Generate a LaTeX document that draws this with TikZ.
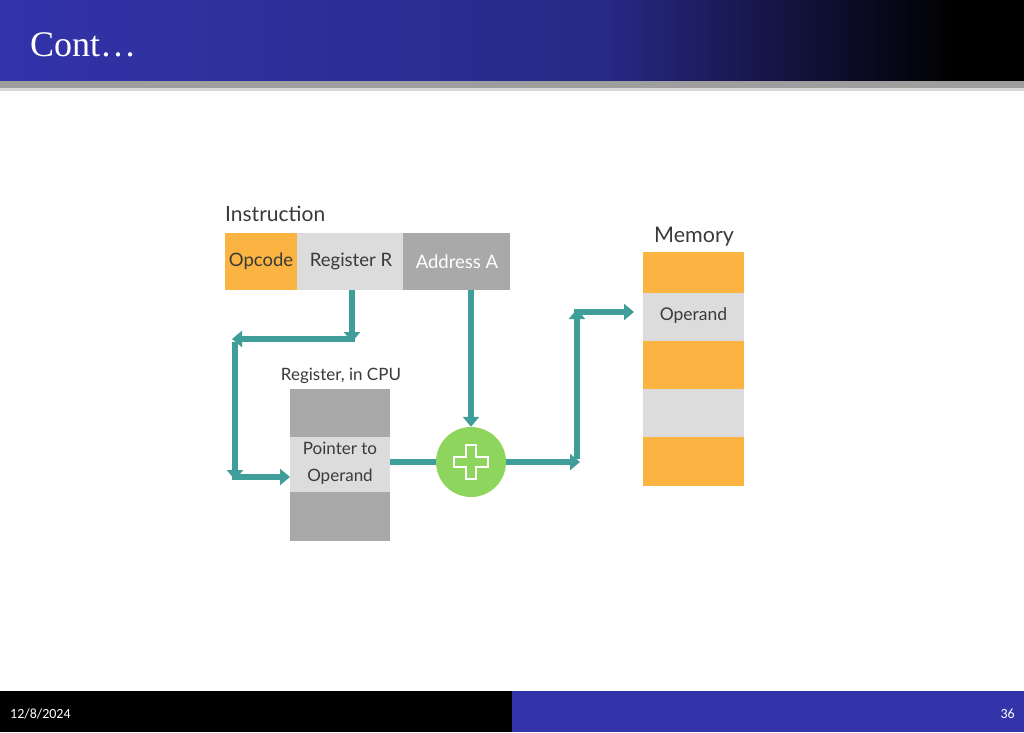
\documentclass[tikz,border=0pt]{standalone}
\usepackage{fontspec}
\setmainfont{Liberation Serif}
\newfontfamily\diagfont{Lato}
\newfontfamily\footfont{Carlito}
\definecolor{hdrblue}{HTML}{3333AA}
\definecolor{teal}{HTML}{409E9A}
\definecolor{orng}{HTML}{FBB441}
\definecolor{lgray}{HTML}{DCDCDC}
\definecolor{dgray}{HTML}{A9A9A9}
\definecolor{grn}{HTML}{8ED55E}
\definecolor{txt}{HTML}{3A3A3A}
\usetikzlibrary{arrows.meta}
\begin{document}
\begin{tikzpicture}[x=1pt,y=-1pt,
  lbl/.style={font=\diagfont\fontsize{21}{24}\selectfont,text=txt,inner sep=0pt},
  celltxt/.style={font=\diagfont\fontsize{18.5}{24}\selectfont,text=txt,align=center},
  conn/.style={teal,line width=5.5pt,-{Triangle[length=10pt,width=16pt]}},
  plain/.style={teal,line width=5.5pt}]
\useasboundingbox (0,0) rectangle (1024,732);
\fill[white] (0,0) rectangle (1024,732);
% header
\shade[left color=hdrblue,right color=hdrblue!80!black] (0,0) rectangle (600,81);
\shade[left color=hdrblue!80!black,right color=black] (600,0) rectangle (955,81);
\fill[black] (955,0) rectangle (1024,81);
\fill[black!38] (0,81) rectangle (1024,88);
\fill[black!15] (0,88) rectangle (1024,91);
\node[anchor=base west,text=white,font=\fontsize{36}{40}\selectfont,inner sep=0pt] (title) at (30,56) {Cont…};
% footer
\fill[black] (0,691) rectangle (512,732);
\fill[hdrblue] (512,691) rectangle (1024,732);
\node[anchor=base west,text=white,font=\footfont\fontsize{14}{16}\selectfont,inner sep=0pt] (date) at (10,718) {12/8/2024};
\node[anchor=base east,text=white,font=\footfont\fontsize{14}{16}\selectfont,inner sep=0pt] (page) at (1015,718) {36};
% instruction
\node[lbl,anchor=base west] (instr) at (225,221) {Instruction};
\fill[orng] (225,233) rectangle (297,290);
\fill[lgray] (297,233) rectangle (403,290);
\fill[dgray] (403,233) rectangle (510,290);
\node[celltxt] (opc) at (261,261.5) {Opcode};
\node[celltxt] (regr) at (351,261.5) {Register R};
\node[celltxt,text=white] (adra) at (457,261.5) {Address A};
\coordinate (rbot) at (352,290);
\coordinate (abot) at (471,290);
% register in CPU
\node[lbl,anchor=base,font=\diagfont\fontsize{17}{20}\selectfont] (regcpu) at (341,380) {Register, in CPU};
\fill[dgray] (290,389) rectangle (390,437);
\fill[lgray] (290,437) rectangle (390,492);
\fill[dgray] (290,492) rectangle (390,541);
\node[celltxt,font=\diagfont\fontsize{17}{27}\selectfont] (ptr) at (340,463) {Pointer to\\Operand};
\coordinate (regin) at (290,477);
\coordinate (regout) at (390,462);
% adder
\node[circle,fill=grn,minimum size=70pt,inner sep=0pt] (add) at (471,462) {};
\draw[white,line width=1.6pt,line join=miter]
  (add.center) +(-5,-17) -- +(5,-17) -- +(5,-5) -- +(17,-5) -- +(17,5) -- +(5,5) -- +(5,17) -- +(-5,17) -- +(-5,5) -- +(-17,5) -- +(-17,-5) -- +(-5,-5) -- cycle;
% memory
\node[lbl,anchor=base west,font=\diagfont\fontsize{21.5}{24}\selectfont] (mem) at (654,242) {Memory};
\fill[orng] (643,252) rectangle (744,293);
\fill[lgray] (643,293) rectangle (744,341);
\fill[orng] (643,341) rectangle (744,389);
\fill[lgray] (643,389) rectangle (744,437);
\fill[orng] (643,437) rectangle (744,486);
\node[celltxt,font=\diagfont\fontsize{17.5}{20}\selectfont] (mop) at (693.5,316) {Operand};
\coordinate (memin) at (634,312);
% connectors
\coordinate (c1) at (352,339);
\coordinate (c2) at (235,339);
\coordinate (c3) at (235,477);
\coordinate (c4) at (577,462);
\coordinate (c5) at (577,312);
\draw[conn] (rbot) -- ([yshift=-3pt]c1);
\draw[plain] ([xshift=2.75pt]c1) -- ([xshift=-2.75pt]c1);
\draw[conn] ([xshift=2.75pt]c1) -- ([xshift=-3pt]c2);
\draw[conn] ([yshift=-2.75pt]c2) -- ([yshift=-3pt]c3);
\draw[conn] ([xshift=-2.75pt]c3) -- (regin);
\draw[conn] (abot) -- (add.north);
\draw[plain] (regout) -- (add.west);
\draw[conn] (add.east) -- ([xshift=3pt]c4);
\draw[conn] ([yshift=2.75pt]c4) -- ([yshift=3pt]c5);
\draw[conn] ([xshift=-2.75pt]c5) -- (memin);
\end{tikzpicture}
\end{document}
